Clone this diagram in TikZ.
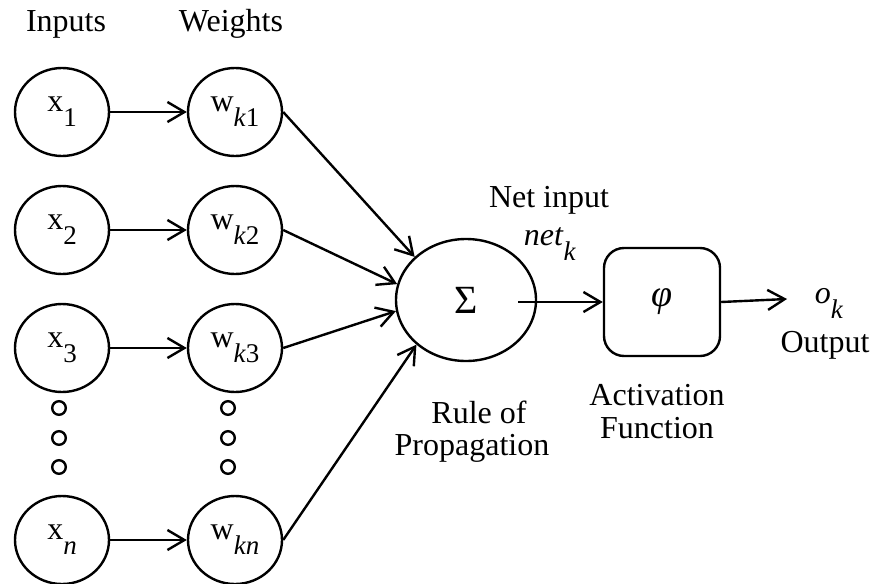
\documentclass[tikz,border=0pt]{standalone}
\usepackage{fontspec}
\setmainfont{Liberation Serif}
\usetikzlibrary{arrows.meta,shapes.geometric,positioning}
\newcommand{\lowsub}[1]{\raisebox{-7.5pt}{\fontsize{13.5}{13.5}\selectfont #1}}

\begin{document}
\begin{tikzpicture}[x=0.5pt,y=-0.5pt,line width=1.2pt,
  font=\fontsize{16}{16.25}\selectfont,
  unit/.style={draw,ellipse,inner sep=0pt,minimum width=47pt,minimum height=44pt},
  gap/.style={draw,circle,inner sep=0pt,minimum size=6.8pt},
  feed/.style={-{Straight Barb[length=8.5pt,width=10pt]}}]
\useasboundingbox (0,0) rectangle (870,583);

% ------------- column heads -------------
\node[anchor=base] (hin) at (66,32) {Inputs};
\node[anchor=base] (hw) at (231,32) {Weights};

% ------------- inputs and weights -------------
\foreach \i/\y in {1/112,2/230,3/348}{
  \node[unit] (x\i) at (62,\y) {x\lowsub{\i}};
  \node[unit] (w\i) at (235,\y) {w\lowsub{\textit{k}\i}};
  \draw[feed] (x\i) -- (w\i);
}
\node[unit] (xn) at (62,540) {x\lowsub{\textit{n}}};
\node[unit] (wn) at (235,540) {w\lowsub{\textit{kn}}};
\draw[feed] (xn) -- (wn);

% gaps
\foreach \y [count=\j] in {408,438,467}{
  \node[gap] (dx\j) at (59,\y) {};
  \node[gap] (dw\j) at (228,\y) {};
}

% ------------- propagation -------------
\node[draw,ellipse,inner sep=0pt,minimum width=70pt,minimum height=61pt,
      font=\fontsize{20}{20}\selectfont] (sigma) at (466,300) {Σ};
\draw[feed] (w1.east) -- (sigma.140);
\draw[feed] (w2.east) -- (sigma.167);
\draw[feed] (w3.east) -- (sigma.189);
\draw[feed] (wn.east) -- (sigma.222);
\node[anchor=base] (rule1) at (479,423) {Rule of};
\node[anchor=base] (rule2) at (472,455) {Propagation};

\node[anchor=base] (netlab) at (549,207) {Net input};
\node[anchor=base] (netk) at (550,245) {\textit{net}\lowsub{\textit{k}}};

% ------------- activation -------------
\node[draw,rounded corners=10pt,inner sep=0pt,minimum width=58pt,
      minimum height=54pt,font=\fontsize{19}{19}\selectfont] (phi) at (662,302) {\textit{φ}};
\coordinate (netin) at (518,302);
\draw[feed] (netin) -- (phi.west);
\node[anchor=base] (act1) at (657,405) {Activation};
\node[anchor=base] (act2) at (657,438) {Function};

% ------------- output -------------
\coordinate (otip) at (787,299);
\draw[feed] (phi.east) -- (otip);
\node[anchor=base] (ok) at (829,303) {\textit{o}\lowsub{\textit{k}}};
\node[anchor=base] (outlab) at (825,352) {Output};

\end{tikzpicture}
\end{document}
